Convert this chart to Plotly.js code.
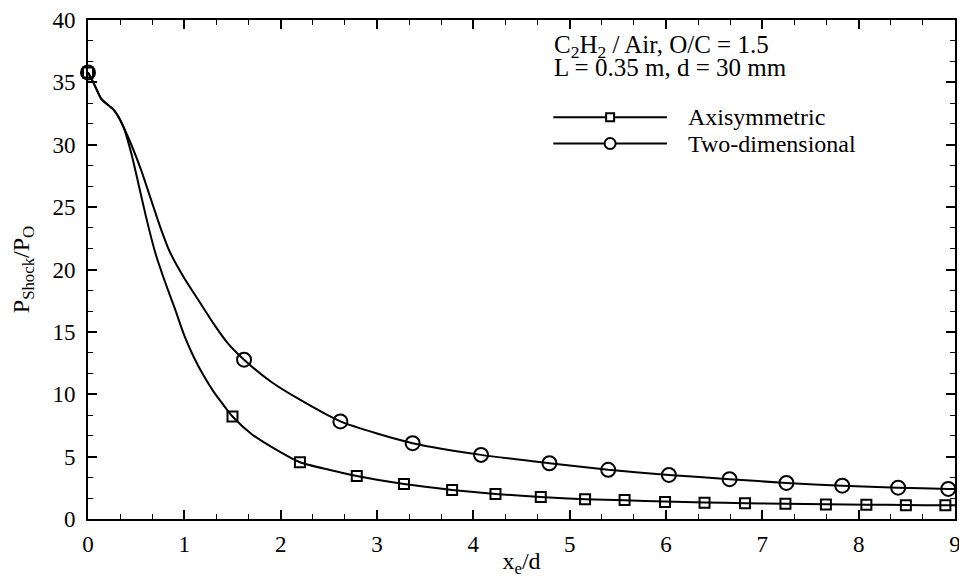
<!DOCTYPE html>
<html>
<head>
<meta charset="utf-8">
<script src="https://cdn.plot.ly/plotly-3.0.1.min.js"></script>
<style>html,body{margin:0;padding:0;background:#fff;}#chart{width:959px;height:578px;}</style>
</head>
<body>
<div id="chart"></div>
<script>
// Axisymmetric: continuous curve
const axiCurveX = [0, 0.055, 0.14, 0.19, 0.26, 0.33, 0.37, 0.45, 0.52, 0.6, 0.7, 0.8, 0.9, 1.0, 1.1, 1.2, 1.3, 1.4, 1.5, 1.7, 1.9, 2.2, 2.5, 2.79, 3.28, 3.78, 4.23, 4.7, 5.16, 5.57, 5.99, 6.4, 6.82, 7.24, 7.66, 8.08, 8.49, 8.9, 9.0];
const axiCurveY = [35.8, 35.0, 33.65, 33.3, 32.85, 32.05, 31.4, 29.3, 27.0, 24.3, 21.3, 19.0, 16.9, 14.7, 12.95, 11.5, 10.25, 9.2, 8.22, 6.8, 5.8, 4.55, 3.95, 3.45, 2.8, 2.33, 2.01, 1.76, 1.58, 1.5, 1.4, 1.33, 1.27, 1.23, 1.18, 1.15, 1.12, 1.1, 1.1];
// Axisymmetric: symbol positions
const axiMarkX = [0, 1.50, 2.20, 2.79, 3.28, 3.78, 4.23, 4.70, 5.16, 5.57, 5.99, 6.40, 6.82, 7.24, 7.66, 8.08, 8.49, 8.90];
const axiMarkY = [35.8, 8.22, 4.55, 3.45, 2.80, 2.33, 2.01, 1.76, 1.58, 1.52, 1.37, 1.31, 1.26, 1.23, 1.17, 1.15, 1.10, 1.10];

// Two-dimensional: continuous curve
const tdCurveX = [0, 0.055, 0.14, 0.19, 0.26, 0.33, 0.37, 0.45, 0.55, 0.65, 0.75, 0.85, 1.0, 1.15, 1.3, 1.45, 1.62, 1.9, 2.2, 2.62, 3.0, 3.37, 4.08, 4.79, 5.40, 6.03, 6.66, 7.25, 7.83, 8.41, 8.93, 9.0];
const tdCurveY = [35.8, 35.0, 33.65, 33.3, 32.85, 32.05, 31.4, 30.0, 28.0, 25.7, 23.4, 21.4, 19.3, 17.5, 15.7, 14.1, 12.77, 11.0, 9.56, 7.82, 6.85, 6.08, 5.14, 4.47, 3.94, 3.53, 3.19, 2.89, 2.67, 2.51, 2.41, 2.4];
// Two-dimensional: symbol positions
const tdMarkX = [0, 1.62, 2.62, 3.37, 4.08, 4.79, 5.40, 6.03, 6.66, 7.25, 7.83, 8.41, 8.93];
const tdMarkY = [35.8, 12.77, 7.82, 6.08, 5.14, 4.47, 3.94, 3.53, 3.19, 2.89, 2.67, 2.51, 2.41];

const seriesNames = ["Axisymmetric", "Two-dimensional"];
const xTickVals = [0, 1, 2, 3, 4, 5, 6, 7, 8, 9];
const yTickVals = [0, 5, 10, 15, 20, 25, 30, 35, 40];

const FONT = "'Liberation Serif', 'Times New Roman', Times, serif";

const traces = [
  {x: axiCurveX, y: axiCurveY, mode: "lines", line: {color: "#000", width: 2, shape: "spline", smoothing: 0.6}, showlegend: false, hoverinfo: "skip"},
  {x: tdCurveX, y: tdCurveY, mode: "lines", line: {color: "#000", width: 2, shape: "spline", smoothing: 0.6}, showlegend: false, hoverinfo: "skip"},
  {x: axiMarkX, y: axiMarkY, mode: "markers", name: seriesNames[0], cliponaxis: false,
   marker: {symbol: "square-open", size: 10, color: "#000", line: {width: 2, color: "#000"}}, showlegend: false},
  {x: tdMarkX, y: tdMarkY, mode: "markers", name: seriesNames[1], cliponaxis: false,
   marker: {symbol: "circle-open", size: 14, color: "#000", line: {width: 2, color: "#000"}}, showlegend: false}
];

// manual legend (long sample lines, Tecplot style)
const legX0 = 4.83, legX1 = 6.01, legXm = 5.42, legTextX = 6.21;
const legY = [32.2, 30.1];

const layout = {
  width: 959, height: 578,
  margin: {l: 88, r: 4, t: 20, b: 59},
  paper_bgcolor: "#fff", plot_bgcolor: "#fff",
  font: {family: FONT, size: 22, color: "#000"},
  xaxis: {
    range: [0, 9], tickvals: xTickVals, ticks: "inside", ticklen: 9, tickwidth: 2, tickcolor: "#000",
    showline: true, linewidth: 2, linecolor: "#000", mirror: "allticks",
    showgrid: false, zeroline: false, ticklabelstandoff: 3, ticklabeloverflow: "allow",
    minor: {dtick: 1/3, tick0: 0, ticks: "inside", ticklen: 5, tickwidth: 1, tickcolor: "#000", showgrid: false},
    tickfont: {family: FONT, size: 23},
    title: {text: "x<sub>e</sub>/d", font: {family: FONT, size: 24}, standoff: 6}
  },
  yaxis: {
    range: [0, 40], tickvals: yTickVals, ticks: "inside", ticklen: 9, tickwidth: 2, tickcolor: "#000",
    showline: true, linewidth: 2, linecolor: "#000", mirror: "allticks",
    showgrid: false, zeroline: false, ticklabelstandoff: 6, ticklabeloverflow: "allow",
    minor: {dtick: 5/3, tick0: 0, ticks: "inside", ticklen: 5, tickwidth: 1, tickcolor: "#000", showgrid: false},
    tickfont: {family: FONT, size: 23},
    title: {text: "P<sub>Shock</sub>/P<sub>O</sub>", font: {family: FONT, size: 24}, standoff: 16}
  },
  showlegend: false,
  shapes: [
    {type: "line", xref: "x", yref: "y", x0: legX0, x1: legX1, y0: legY[0], y1: legY[0], line: {color: "#000", width: 2}},
    {type: "line", xref: "x", yref: "y", x0: legX0, x1: legX1, y0: legY[1], y1: legY[1], line: {color: "#000", width: 2}},
    {type: "rect", xref: "x", yref: "y", xsizemode: "pixel", ysizemode: "pixel", xanchor: legXm, yanchor: legY[0],
     x0: -4, x1: 4, y0: -4, y1: 4, line: {color: "#000", width: 2}, fillcolor: "#fff"},
    {type: "circle", xref: "x", yref: "y", xsizemode: "pixel", ysizemode: "pixel", xanchor: legXm, yanchor: legY[1],
     x0: -5.5, x1: 5.5, y0: -5.5, y1: 5.5, line: {color: "#000", width: 2}, fillcolor: "#fff"}
  ],
  annotations: [
    {x: 4.82, y: 37.85, xref: "x", yref: "y", xanchor: "left", yanchor: "middle", showarrow: false,
     text: "C<sub>2</sub>H<sub>2</sub> / Air, O/C = 1.5", font: {family: FONT, size: 25}},
    {x: 4.82, y: 36.2, xref: "x", yref: "y", xanchor: "left", yanchor: "middle", showarrow: false,
     text: "L = 0.35 m, d = 30 mm", font: {family: FONT, size: 25}},
    {x: legTextX, y: legY[0], xref: "x", yref: "y", xanchor: "left", yanchor: "middle", showarrow: false,
     text: seriesNames[0], font: {family: FONT, size: 24}},
    {x: legTextX, y: legY[1], xref: "x", yref: "y", xanchor: "left", yanchor: "middle", showarrow: false,
     text: seriesNames[1], font: {family: FONT, size: 24}}
  ]
};

Plotly.newPlot("chart", traces, layout, {staticPlot: true, displayModeBar: false});
</script>
</body>
</html>
